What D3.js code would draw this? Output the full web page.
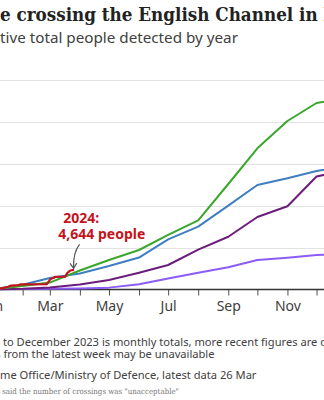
<!DOCTYPE html>
<html>
<head>
<meta charset="utf-8">
<script src="https://cdn.jsdelivr.net/npm/d3@7"></script>
<style>
  html, body { margin: 0; padding: 0; background: #fff; overflow: hidden; }
  svg { display: block; }
</style>
</head>
<body>
<svg id="chart" width="324" height="400"></svg>
<script>
// ---------- data ----------
const monthStarts = ["2023-01-01","2023-02-01","2023-03-01","2023-04-01","2023-05-01","2023-06-01",
  "2023-07-01","2023-08-01","2023-09-01","2023-10-01","2023-11-01","2023-12-01","2024-01-01"];
const values2020 = [0, 60, 120, 200, 400, 1200, 2600, 3950, 5260, 7010, 7560, 8200, 8466];
const values2021 = [0, 120, 430, 1150, 2220, 3970, 5810, 9500, 12580, 17300, 19860, 26990, 28526];
const values2022 = [0, 800, 1600, 4500, 7000, 9400, 13000, 16500, 25190, 33730, 40260, 44570, 45774];
const values2023 = [0, 1100, 2700, 3793, 5570, 7600, 11960, 15000, 20020, 24950, 26550, 28300, 29437];
const dates2024 = ["2023-01-01","2023-01-06","2023-01-12","2023-01-13","2023-01-17","2023-01-20","2023-01-28",
  "2023-01-30","2023-02-26","2023-02-28","2023-03-01","2023-03-03","2023-03-05","2023-03-06","2023-03-14",
  "2023-03-17","2023-03-18","2023-03-19","2023-03-21","2023-03-22","2023-03-26"];
const values2024 = [0, 50, 350, 360, 600, 900, 1000, 1200, 1250, 1900, 2250, 2600, 2700, 2950, 3000,
  3050, 3500, 3900, 4300, 4500, 4644];
const yTicks = [0, 10000, 20000, 30000, 40000, 50000];
const labelMonths = ["Jan","Mar","May","Jul","Sep","Nov"];

const seriesColors = { "2020": "#8b5cf6", "2021": "#6c1d7c", "2022": "#3aa62c", "2023": "#3f7fc1", "2024": "#c4141b" };

// ---------- setup ----------
const svg = d3.select("#chart");
const parse = d3.timeParse("%Y-%m-%d");
const x = d3.scaleTime().domain([parse("2023-01-01"), parse("2024-01-01")]).range([-7.4, 346.6]);
const y = d3.scaleLinear().domain([0, 50000]).range([289.3, 80.3]);

function measure(str, family, weight, size) {
  const t = svg.append("text").attr("font-family", family).attr("font-weight", weight)
    .attr("font-size", size).text(str);
  const w = t.node().getComputedTextLength();
  t.remove();
  return w;
}
// place text so that `visible` begins at x0 and has width targetW; prefix hangs off the left edge
function placeCut(opts) {
  const size = opts.size || 100 * opts.targetW / measure(opts.visible, opts.family, opts.weight, 100);
  const pw = measure(opts.prefix, opts.family, opts.weight, size);
  svg.append("text")
    .attr("x", opts.x0 - pw).attr("y", opts.y)
    .attr("font-family", opts.family).attr("font-weight", opts.weight)
    .attr("font-size", size).attr("fill", opts.fill)
    .text(opts.prefix + opts.visible + (opts.suffix || ""));
  return size;
}

// ---------- titles ----------
placeCut({ prefix: "Peopl", visible: "e crossing the English Channel in ", suffix: "boats",
  x0: 0, y: 21, targetW: 318, family: "DejaVu Serif Condensed", weight: "bold", fill: "#222" });
placeCut({ prefix: "Cumula", visible: "tive total people detected by year",
  x0: 0, y: 42.5, targetW: 238, family: "Noto Sans", weight: "normal", fill: "#404040" });

// ---------- grid ----------
svg.append("g").selectAll("line").data(yTicks.slice(1)).join("line")
  .attr("x1", 0).attr("x2", 324)
  .attr("y1", d => Math.round(y(d)) + 0.5).attr("y2", d => Math.round(y(d)) + 0.5)
  .attr("stroke", "#e2e2e2").attr("stroke-width", 1.2);

// ---------- x axis ----------
const xAxis = d3.axisBottom(x)
  .ticks(d3.timeMonth.every(1))
  .tickSize(6)
  .tickFormat(d => { const m = d3.timeFormat("%b")(d); return labelMonths.includes(m) ? m : ""; });
const gx = svg.append("g").attr("transform", "translate(0,289.5)").call(xAxis);
gx.select(".domain").remove();
gx.selectAll(".tick line").attr("stroke", "#505050").attr("stroke-width", 1);
gx.selectAll(".tick text").attr("font-family", "Noto Sans").attr("font-size", 14)
  .attr("fill", "#404040").attr("dy", null).attr("y", 21.5);
svg.append("line").attr("x1", 0).attr("x2", 324).attr("y1", 289.5).attr("y2", 289.5)
  .attr("stroke", "#333").attr("stroke-width", 1.5);

// ---------- lines ----------
const line = d3.line().x(d => x(d.date)).y(d => y(d.value));
const monthly = [["2020", values2020], ["2021", values2021], ["2023", values2023], ["2022", values2022]];
monthly.forEach(([yr, vals]) => {
  const pts = monthStarts.map((m, i) => ({ date: parse(m), value: vals[i] }));
  svg.append("path").datum(pts).attr("d", line)
    .attr("fill", "none").attr("stroke", seriesColors[yr]).attr("stroke-width", 2)
    .attr("stroke-linejoin", "round");
});
const pts24 = dates2024.map((d, i) => ({ date: parse(d), value: values2024[i] }));
svg.append("path").datum(pts24).attr("d", line)
  .attr("fill", "none").attr("stroke", seriesColors["2024"]).attr("stroke-width", 2.2)
  .attr("stroke-linejoin", "round");

// ---------- annotation ----------
const endPt = pts24[pts24.length - 1];
const ex = x(endPt.date) - 0.5, ey = y(endPt.value) - 1.5;
svg.append("path")
  .attr("d", `M${ex + 6},${ey - 24} Q${ex - 0.5},${ey - 16} ${ex},${ey}`)
  .attr("fill", "none").attr("stroke", "#555").attr("stroke-width", 1.2);
svg.append("path")
  .attr("d", `M${ex - 3.5},${ey - 5} L${ex},${ey} L${ex + 3.2},${ey - 5.2}`)
  .attr("fill", "none").attr("stroke", "#555").attr("stroke-width", 1.2);
const annSize = 100 * 87 / measure("4,644 people", "Noto Sans", "bold", 100);
svg.append("text").attr("x", 63.3).attr("y", 223.3).attr("font-family", "Noto Sans")
  .attr("font-weight", "bold").attr("font-size", annSize).attr("fill", "#c4141b").text("2024:");
svg.append("text").attr("x", 58.3).attr("y", 239).attr("font-family", "Noto Sans")
  .attr("font-weight", "bold").attr("font-size", annSize).attr("fill", "#c4141b").text("4,644 people");

// ---------- notes ----------
const noteSize = placeCut({ prefix: "Note: Data up ", visible: "to December 2023 is monthly totals, more recent figures are ",
  suffix: "daily.", x0: 0, y: 346, targetW: 315, family: "Noto Sans", weight: "normal", fill: "#404040" });
placeCut({ prefix: "Figures ", visible: "from the latest week may be unavailable", size: noteSize,
  x0: 0.5, y: 357.5, family: "Noto Sans", weight: "normal", fill: "#404040" });
placeCut({ prefix: "Source: Ho", visible: "me Office/Ministry of Defence, latest data 26 Mar",
  x0: 0, y: 378.5, targetW: 257, family: "Noto Sans", weight: "normal", fill: "#404040" });
placeCut({ prefix: "The government ", visible: "said the number of crossings was \"unacceptable\"",
  x0: 0, y: 393.5, targetW: 177, family: "DejaVu Serif Condensed", weight: "normal", fill: "#777" });
</script>
</body>
</html>
